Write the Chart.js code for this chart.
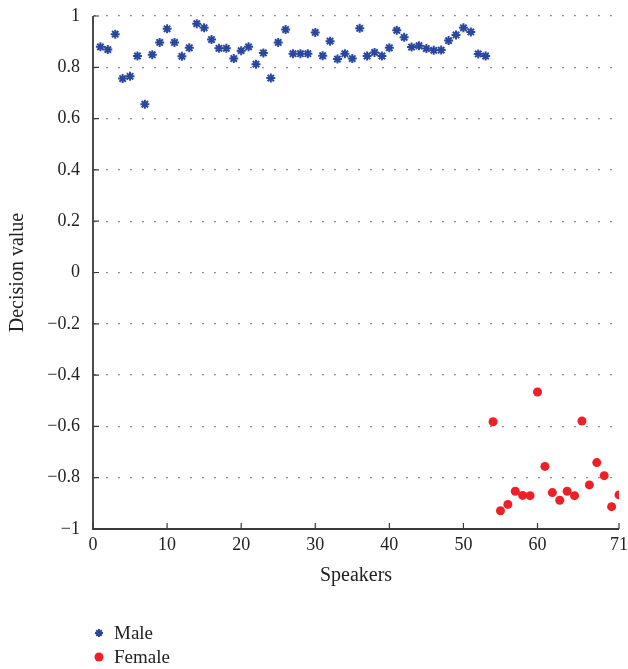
<!DOCTYPE html>
<html>
<head>
<meta charset="utf-8">
<script src="https://cdn.jsdelivr.net/npm/chart.js@4.4.1/dist/chart.umd.min.js"></script>
<style>
  body { margin: 0; background: #fff; }
  canvas { display: block; }
</style>
</head>
<body>
<canvas id="chart" width="628" height="669"></canvas>
<script>
// Decision values per speaker (speakers 1-53 male, 54-71 female)
const maleSpeakers = [];
for (let i = 1; i <= 53; i++) maleSpeakers.push(i);
const maleValues = [
    0.880, 0.869, 0.929, 0.756, 0.765, 0.844, 0.656, 0.849, 0.897, 0.950,
    0.897, 0.843, 0.876, 0.970, 0.954, 0.908, 0.874, 0.874, 0.834, 0.865,
    0.880, 0.812, 0.856, 0.758, 0.897, 0.947, 0.853, 0.853, 0.853, 0.936,
    0.845, 0.902, 0.832, 0.853, 0.834, 0.952, 0.844, 0.858, 0.844, 0.876,
    0.944, 0.917, 0.879, 0.884, 0.873, 0.866, 0.867, 0.904, 0.926, 0.954,
    0.938, 0.852, 0.844
];
const femaleSpeakers = [];
for (let i = 54; i <= 71; i++) femaleSpeakers.push(i);
const femaleValues = [
    -0.582, -0.929, -0.904, -0.853, -0.869, -0.870, -0.466, -0.756, -0.858,
    -0.888, -0.853, -0.870, -0.579, -0.828, -0.741, -0.792, -0.913, -0.867
];
const xTickValues = [0, 10, 20, 30, 40, 50, 60, 71];

const serif = '"Liberation Serif", "DejaVu Serif", serif';
const axisColor = '#3a3a3a';

function toPoints(xs, ys) {
    return xs.map((x, i) => ({ x: x, y: ys[i] }));
}

function fmtY(v) {
    const r = Math.round(v * 10) / 10;
    if (r === 0) return '0';
    let s = Math.abs(r) === 1 ? '1' : Math.abs(r).toFixed(1);
    return (r < 0 ? '\u2212' : '') + s;
}

// axis lines with short inward ticks, plus the legend under the plot
const axesAndLegend = {
    id: 'axesAndLegend',
    afterDraw(chart) {
        const ctx = chart.ctx;
        const area = chart.chartArea;
        const xs = chart.scales.x, ys = chart.scales.y;
        ctx.save();
        ctx.strokeStyle = axisColor;
        ctx.lineWidth = 1.8;
        ctx.beginPath();
        ctx.moveTo(area.left, area.top);
        ctx.lineTo(area.left, area.bottom);
        ctx.lineTo(area.right, area.bottom);
        ctx.stroke();

        ctx.lineWidth = 1.2;
        ctx.beginPath();
        ys.ticks.forEach(t => {
            const py = ys.getPixelForValue(t.value);
            ctx.moveTo(area.left, py);
            ctx.lineTo(area.left + 6, py);
        });
        xs.ticks.forEach(t => {
            const px = xs.getPixelForValue(t.value);
            ctx.moveTo(px, area.bottom);
            ctx.lineTo(px, area.bottom - 6);
        });
        ctx.stroke();

        // legend
        const lx = 99, ly = 633, gap = 24;
        ctx.font = '19px ' + serif;
        ctx.textBaseline = 'middle';
        ctx.textAlign = 'left';
        chart.data.datasets.forEach((ds, i) => {
            const y = ly + i * gap;
            ctx.fillStyle = ds.pointBackgroundColor;
            ctx.strokeStyle = ds.pointBorderColor;
            ctx.lineWidth = ds.pointBorderWidth;
            Chart.helpers.drawPoint(ctx, {
                pointStyle: ds.pointStyle,
                radius: ds.pointStyle === 'star' ? 4 : ds.pointRadius,
                borderWidth: ds.pointBorderWidth,
                rotation: 0
            }, lx, y);
            ctx.fillStyle = '#222';
            ctx.fillText(ds.label, lx + 15, y + 1);
        });
        ctx.restore();
    }
};

const ctx = document.getElementById('chart').getContext('2d');
new Chart(ctx, {
    type: 'scatter',
    data: {
        datasets: [{
            label: 'Male',
            data: toPoints(maleSpeakers, maleValues),
            pointStyle: 'star',
            pointRadius: 4.5,
            pointBorderWidth: 2,
            pointBackgroundColor: 'rgb(40, 72, 160)',
            pointBorderColor: 'rgb(40, 72, 160)'
        }, {
            label: 'Female',
            data: toPoints(femaleSpeakers, femaleValues),
            pointStyle: 'circle',
            pointRadius: 4.5,
            pointBorderWidth: 0,
            pointBackgroundColor: 'rgb(236, 32, 38)',
            pointBorderColor: 'rgb(236, 32, 38)'
        }]
    },
    options: {
        responsive: false,
        animation: false,
        layout: { padding: { left: 2, right: 9, top: 16, bottom: 77 } },
        plugins: {
            legend: { display: false },
            tooltip: { enabled: false }
        },
        scales: {
            x: {
                type: 'linear',
                min: 0,
                max: 71,
                afterBuildTicks(scale) {
                    scale.ticks = xTickValues.map(v => ({ value: v }));
                },
                afterFit(scale) {
                    scale.height = 63;
                    scale.paddingLeft = 0;
                    scale.paddingRight = 0;
                },
                grid: { display: false, drawTicks: false },
                border: { display: false },
                ticks: {
                    padding: 5,
                    color: '#222',
                    font: { family: serif, size: 18 },
                    callback: v => String(v)
                },
                title: {
                    display: true,
                    text: 'Speakers',
                    color: '#222',
                    font: { family: serif, size: 20 }
                }
            },
            y: {
                min: -1,
                max: 1,
                afterFit(scale) {
                    scale.width = 91;
                    scale.paddingTop = 0;
                    scale.paddingBottom = 0;
                },
                ticks: {
                    stepSize: 0.2,
                    padding: 13,
                    color: '#222',
                    font: { family: serif, size: 18 },
                    callback: v => fmtY(v)
                },
                grid: {
                    drawTicks: false,
                    lineWidth: 1.2,
                    color: c => (c.tick && Math.round(c.tick.value * 10) === -10) ? 'rgba(0,0,0,0)' : '#555'
                },
                border: { display: false, dash: [1.3, 10.7], dashOffset: -1.3 },
                title: {
                    display: true,
                    text: 'Decision value',
                    color: '#222',
                    font: { family: serif, size: 20 }
                }
            }
        }
    },
    plugins: [axesAndLegend]
});
</script>
</body>
</html>
